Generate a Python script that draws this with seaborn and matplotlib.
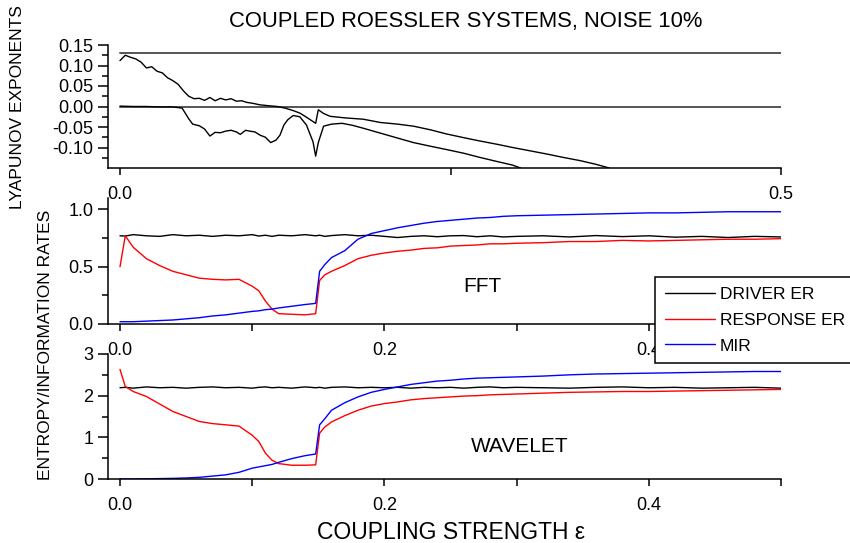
import matplotlib
matplotlib.use("Agg")
import matplotlib.pyplot as plt
import seaborn as sns
from matplotlib.lines import Line2D

# ---------------- data ----------------
TITLE = "COUPLED ROESSLER SYSTEMS, NOISE 10%"
XLABEL = "COUPLING STRENGTH \u03b5"
YLABEL_TOP = "LYAPUNOV EXPONENTS"
YLABEL_LOW = "ENTROPY/INFORMATION RATES"
SERIES_NAMES = ["DRIVER ER", "RESPONSE ER", "MIR"]
SERIES_COLORS = ["black", "#ff0000", "#0000ff"]

# driver Lyapunov exponents (constant) and x-range
DRIVER_LE = [0.13, 0.0]
LE_XRANGE = [0.0, 0.5]

LE1_X = [0.000, 0.004, 0.008, 0.012, 0.016, 0.020, 0.024, 0.028, 0.032, 0.036,
         0.040, 0.044, 0.048, 0.052, 0.056, 0.060, 0.064, 0.068, 0.072, 0.076,
         0.080, 0.084, 0.088, 0.092, 0.096, 0.100, 0.106, 0.112, 0.119, 0.125,
         0.131, 0.136, 0.141, 0.148, 0.150, 0.154, 0.159, 0.171, 0.184, 0.197,
         0.210, 0.222, 0.235, 0.247, 0.260, 0.272, 0.285, 0.297, 0.310, 0.323,
         0.335, 0.348, 0.360, 0.370]
LE1_Y = [0.112, 0.125, 0.120, 0.116, 0.108, 0.094, 0.097, 0.086, 0.082, 0.070,
         0.063, 0.054, 0.038, 0.025, 0.019, 0.020, 0.015, 0.022, 0.014, 0.020,
         0.016, 0.019, 0.013, 0.014, 0.010, 0.008, 0.004, 0.002, 0.000, -0.004,
         -0.010, -0.016, -0.026, -0.041, -0.008, -0.017, -0.024, -0.028, -0.031, -0.039,
         -0.043, -0.048, -0.057, -0.067, -0.076, -0.084, -0.092, -0.100, -0.108, -0.116,
         -0.124, -0.132, -0.141, -0.150]

LE2_X = [0.000, 0.010, 0.020, 0.030, 0.040, 0.047, 0.052, 0.055, 0.060, 0.064,
         0.068, 0.072, 0.076, 0.080, 0.084, 0.088, 0.091, 0.095, 0.098, 0.102,
         0.106, 0.110, 0.114, 0.118, 0.121, 0.124, 0.127, 0.131, 0.136, 0.141,
         0.146, 0.148, 0.150, 0.154, 0.160, 0.168, 0.176, 0.184, 0.197, 0.210,
         0.222, 0.235, 0.247, 0.260, 0.272, 0.285, 0.297, 0.303]
LE2_Y = [0.001, 0.000, 0.000, -0.001, -0.001, -0.004, -0.030, -0.043, -0.047, -0.055,
         -0.072, -0.063, -0.064, -0.060, -0.058, -0.062, -0.068, -0.058, -0.060, -0.062,
         -0.070, -0.075, -0.088, -0.082, -0.070, -0.045, -0.032, -0.022, -0.025, -0.045,
         -0.086, -0.121, -0.088, -0.048, -0.043, -0.041, -0.046, -0.053, -0.065, -0.077,
         -0.088, -0.097, -0.105, -0.114, -0.124, -0.134, -0.143, -0.150]

RATE_X = [0.000, 0.004, 0.010, 0.020, 0.030, 0.040, 0.050, 0.060, 0.070, 0.080,
          0.090, 0.100, 0.105, 0.110, 0.115, 0.120, 0.130, 0.140, 0.148, 0.151,
          0.155, 0.160, 0.170, 0.180, 0.190, 0.200, 0.210, 0.220, 0.230, 0.240,
          0.250, 0.260, 0.270, 0.280, 0.290, 0.300, 0.320, 0.340, 0.360, 0.380,
          0.400, 0.420, 0.440, 0.460, 0.480, 0.500]

FFT_DRIVER = [0.770, 0.768, 0.780, 0.770, 0.765, 0.780, 0.770, 0.775, 0.765, 0.775,
              0.770, 0.780, 0.768, 0.775, 0.765, 0.775, 0.770, 0.780, 0.770, 0.775,
              0.765, 0.772, 0.780, 0.770, 0.775, 0.765, 0.755, 0.765, 0.770, 0.762,
              0.770, 0.772, 0.762, 0.770, 0.760, 0.765, 0.770, 0.760, 0.772, 0.763,
              0.770, 0.758, 0.765, 0.755, 0.765, 0.760]
FFT_RESPONSE = [0.50, 0.77, 0.67, 0.57, 0.51, 0.46, 0.43, 0.40, 0.39, 0.385,
                0.39, 0.33, 0.29, 0.20, 0.13, 0.09, 0.085, 0.08, 0.09, 0.38,
                0.43, 0.46, 0.51, 0.57, 0.60, 0.62, 0.635, 0.645, 0.66, 0.665,
                0.68, 0.685, 0.69, 0.70, 0.70, 0.705, 0.71, 0.72, 0.72, 0.73,
                0.725, 0.73, 0.735, 0.74, 0.74, 0.745]
FFT_MIR = [0.020, 0.020, 0.020, 0.025, 0.030, 0.035, 0.045, 0.055, 0.070, 0.080,
           0.095, 0.110, 0.115, 0.125, 0.130, 0.140, 0.155, 0.170, 0.180, 0.460,
           0.520, 0.580, 0.640, 0.740, 0.790, 0.815, 0.840, 0.860, 0.880, 0.895,
           0.905, 0.915, 0.925, 0.930, 0.940, 0.945, 0.950, 0.955, 0.960, 0.965,
           0.970, 0.970, 0.975, 0.980, 0.980, 0.980]

WAV_DRIVER = [2.19, 2.20, 2.18, 2.21, 2.19, 2.20, 2.18, 2.20, 2.21, 2.19,
              2.20, 2.18, 2.20, 2.21, 2.19, 2.20, 2.18, 2.21, 2.19, 2.20,
              2.18, 2.20, 2.21, 2.19, 2.20, 2.19, 2.20, 2.18, 2.20, 2.19,
              2.20, 2.18, 2.20, 2.21, 2.19, 2.20, 2.19, 2.18, 2.20, 2.21,
              2.19, 2.20, 2.18, 2.19, 2.20, 2.18]
WAV_RESPONSE = [2.63, 2.22, 2.10, 1.98, 1.80, 1.62, 1.50, 1.38, 1.33, 1.30,
                1.27, 1.05, 0.90, 0.62, 0.45, 0.37, 0.33, 0.33, 0.34, 1.10,
                1.25, 1.37, 1.52, 1.65, 1.75, 1.81, 1.85, 1.90, 1.93, 1.95,
                1.97, 1.99, 2.00, 2.02, 2.03, 2.04, 2.06, 2.08, 2.09, 2.10,
                2.10, 2.11, 2.12, 2.13, 2.14, 2.15]
WAV_MIR = [0.00, 0.00, 0.00, 0.005, 0.01, 0.015, 0.025, 0.04, 0.07, 0.10,
           0.16, 0.26, 0.29, 0.32, 0.35, 0.40, 0.49, 0.56, 0.60, 1.30,
           1.45, 1.65, 1.83, 1.97, 2.08, 2.15, 2.21, 2.27, 2.31, 2.35,
           2.37, 2.40, 2.42, 2.43, 2.44, 2.45, 2.47, 2.50, 2.52, 2.53,
           2.54, 2.55, 2.56, 2.57, 2.58, 2.58]

TOP_YTICKS = [-0.10, -0.05, 0.00, 0.05, 0.10, 0.15]
TOP_YTICKLABELS = ["-0.10", "-0.05", "0.00", "0.05", "0.10", "0.15"]
TOP_YMINOR = [-0.125, -0.075, -0.025, 0.025, 0.075, 0.125]
TOP_XTICKS = [0.0, 0.5]
TOP_XTICKLABELS = ["0.0", "0.5"]
TOP_XMINOR = [0.25]
LOW_XTICKS = [0.0, 0.2, 0.4]
LOW_XTICKLABELS = ["0.0", "0.2", "0.4"]
LOW_XMINOR = [0.1, 0.3, 0.5]
MID_YTICKS = [0.0, 0.5, 1.0]
MID_YTICKLABELS = ["0.0", "0.5", "1.0"]
MID_YMINOR = [0.25, 0.75]
BOT_YTICKS = [0, 1, 2, 3]
BOT_YTICKLABELS = ["0", "1", "2", "3"]
BOT_YMINOR = [0.5, 1.5, 2.5]

# ---------------- style ----------------
sns.set_style("ticks")
plt.rcParams["font.family"] = ["Liberation Sans", "DejaVu Sans"]
plt.rcParams["axes.unicode_minus"] = False
plt.rcParams["axes.edgecolor"] = "black"
plt.rcParams["xtick.color"] = "black"
plt.rcParams["ytick.color"] = "black"
plt.rcParams["text.color"] = "black"

fig = plt.figure(figsize=(8.5, 5.43), dpi=100)
L, W = 108 / 850, (781 - 108) / 850
ax1 = fig.add_axes([L, (543 - 168) / 543, W, 123 / 543])
ax2 = fig.add_axes([L, (543 - 324) / 543, W, 126 / 543])
ax3 = fig.add_axes([L, (543 - 479) / 543, W, 125 / 543])

LW = 1.0
# top panel
for yv in DRIVER_LE:
    sns.lineplot(x=LE_XRANGE, y=[yv, yv], ax=ax1, color="#555555", linewidth=1.4)
sns.lineplot(x=LE1_X, y=LE1_Y, ax=ax1, color="black", linewidth=LW, sort=False, estimator=None)
sns.lineplot(x=LE2_X, y=LE2_Y, ax=ax1, color="black", linewidth=LW, sort=False, estimator=None)

# FFT panel
for ys, c in zip([FFT_DRIVER, FFT_RESPONSE, FFT_MIR], SERIES_COLORS):
    sns.lineplot(x=RATE_X, y=ys, ax=ax2, color=c, linewidth=LW, sort=False, estimator=None)
# WAVELET panel
for ys, c in zip([WAV_DRIVER, WAV_RESPONSE, WAV_MIR], SERIES_COLORS):
    sns.lineplot(x=RATE_X, y=ys, ax=ax3, color=c, linewidth=LW, sort=False, estimator=None)

XL = (-12 / 1322, 0.5)
ax1.set_ylim(-0.15, 0.15)
ax2.set_ylim(0, 1.1)
ax3.set_ylim(0, 3)

for ax in (ax1, ax2, ax3):
    ax.set_xlim(*XL)
    ax.spines[["top", "right"]].set_visible(False)
    ax.spines[["left", "bottom"]].set_linewidth(1.1)
    ax.set_xlabel("")
    ax.set_ylabel("")
    ax.patch.set_alpha(0)
    ax.tick_params(axis="y", which="major", length=7.5, width=1.1, labelsize=13, pad=3)
    ax.tick_params(axis="y", which="minor", length=4, width=1.1)
    ax.tick_params(axis="x", which="both", length=5, width=1.1, labelsize=13, pad=8)

ax1.set_yticks(TOP_YTICKS, TOP_YTICKLABELS)
ax1.set_yticks(TOP_YMINOR, minor=True)
ax1.set_xticks(TOP_XTICKS, TOP_XTICKLABELS)
ax1.set_xticks(TOP_XMINOR, minor=True)

ax2.set_yticks(MID_YTICKS, MID_YTICKLABELS)
ax2.set_yticks(MID_YMINOR, minor=True)
ax3.set_yticks(BOT_YTICKS, BOT_YTICKLABELS)
ax3.set_yticks(BOT_YMINOR, minor=True)
for ax in (ax2, ax3):
    ax.set_xticks(LOW_XTICKS, LOW_XTICKLABELS)
    ax.set_xticks(LOW_XMINOR, minor=True)

ax2.text(0.274, 0.33, "FFT", fontsize=15, ha="center", va="center")
ax3.text(0.3026, 0.77, "WAVELET", fontsize=15, ha="center", va="center")

fig.text(466 / 850, 1 - 27.5 / 543, TITLE, fontsize=15.8, ha="center", va="baseline")
fig.text(451 / 850, 1 - 539 / 543, XLABEL, fontsize=16.5, ha="center", va="baseline")
fig.text(18 / 850, 1 - 107 / 543, YLABEL_TOP, fontsize=12.5, rotation=90, ha="center", va="center")
fig.text(46 / 850, 1 - 345 / 543, YLABEL_LOW, fontsize=12.5, rotation=90, ha="center", va="center")

handles = [Line2D([], [], color=c, linewidth=LW) for c in SERIES_COLORS]
leg = fig.legend(handles, SERIES_NAMES, loc="upper left",
                 bbox_to_anchor=(655 / 850, 1 - 277 / 543), bbox_transform=fig.transFigure,
                 fontsize=12.5, frameon=True, fancybox=False, shadow=False,
                 edgecolor="black", facecolor="white", framealpha=1,
                 handlelength=2.9, handletextpad=0.3, labelspacing=0.62, borderpad=0.55,
                 borderaxespad=0)
leg.get_frame().set_linewidth(1.1)
leg.set_zorder(10)

fig.savefig("out.png", dpi=100)
